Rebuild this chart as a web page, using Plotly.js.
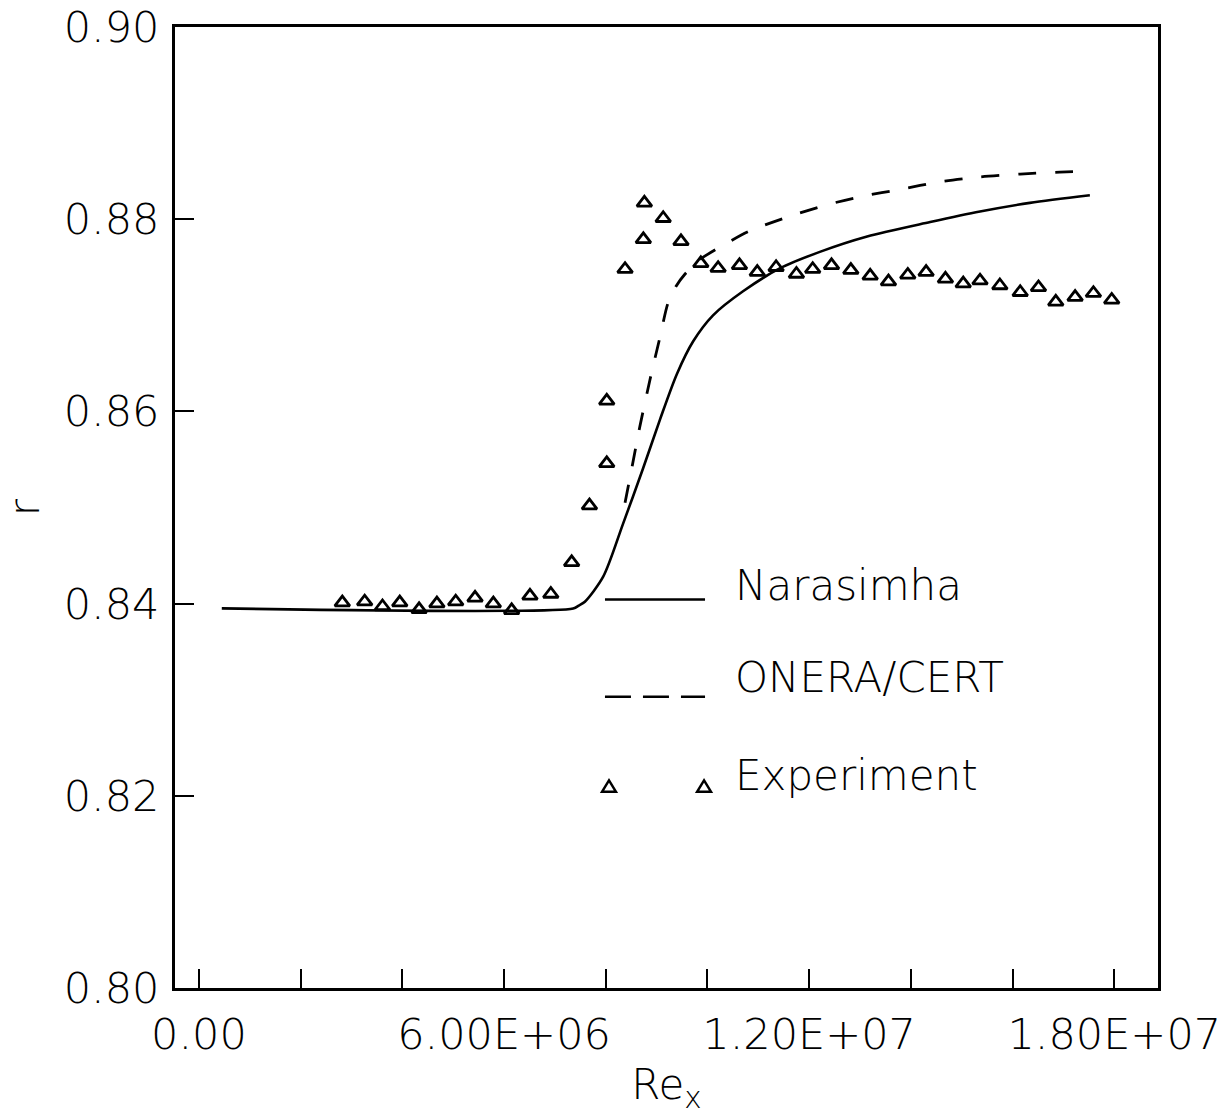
<!DOCTYPE html>
<html>
<head>
<meta charset="utf-8">
<script src="https://cdn.plot.ly/plotly-3.0.1.min.js"></script>
<style>html,body{margin:0;padding:0;background:#fff}#chart{width:1231px;height:1115px}</style>
</head>
<body>
<div id="chart"></div>
<script>
// Experiment (open triangles)
const expX = [2.82e6,3.26e6,3.61e6,3.95e6,4.33e6,4.68e6,5.05e6,5.43e6,5.79e6,6.15e6,6.51e6,6.92e6,7.33e6,7.68e6,8.02e6,8.02e6,8.38e6,8.74e6,8.76e6,9.13e6,9.48e6,9.87e6,10.21e6,10.63e6,10.98e6,11.35e6,11.75e6,12.07e6,12.44e6,12.82e6,13.20e6,13.56e6,13.94e6,14.30e6,14.68e6,15.03e6,15.36e6,15.75e6,16.15e6,16.51e6,16.85e6,17.23e6,17.59e6,17.95e6];
const expY = [0.8401,0.8402,0.8397,0.8401,0.8394,0.8400,0.8402,0.8406,0.8400,0.8393,0.8408,0.8410,0.8443,0.8502,0.8546,0.8611,0.8748,0.8779,0.8817,0.8801,0.8777,0.8754,0.8749,0.8752,0.8745,0.8750,0.8743,0.8748,0.8752,0.8747,0.8741,0.8735,0.8742,0.8745,0.8738,0.8733,0.8736,0.8731,0.8724,0.8729,0.8714,0.8719,0.8723,0.8716];

// Narasimha (solid)
const narX = [0.45e6,7.36e6,7.47e6,7.59e6,7.95e6,8.34e6,8.73e6,9.07e6,9.40e6,9.72e6,10.11e6,10.70e6,11.43e6,12.21e6,13.14e6,14.38e6,15.36e6,16.34e6,17.52e6];
const narY = [0.8395,0.8395,0.8398,0.8402,0.8428,0.8483,0.8540,0.8592,0.8639,0.8673,0.8700,0.8725,0.8749,0.8766,0.8782,0.8797,0.8808,0.8817,0.8825];

// ONERA/CERT (dashed)
const oneX = [8.38e6,8.52e6,8.67e6,8.87e6,9.07e6,9.22e6,9.38e6,9.56e6,9.85e6,10.31e6,10.84e6,11.56e6,12.35e6,13.06e6,13.79e6,14.57e6,15.36e6,16.15e6,16.93e6,17.48e6];
const oneY = [0.8505,0.8543,0.8584,0.8633,0.8678,0.8712,0.8730,0.8743,0.8758,0.8773,0.8788,0.8802,0.8815,0.8824,0.8831,0.8839,0.8844,0.8847,0.8849,0.8850];

// Axis ticks
const xTickVals = [0,6e6,12e6,18e6];
const xTickText = ["0.00","6.00E+06","1.20E+07","1.80E+07"];
const xMinorVals = [2e6,4e6,8e6,10e6,14e6,16e6];
const yTickVals = [0.80,0.82,0.84,0.86,0.88,0.90];
const yTickText = ["0.80","0.82","0.84","0.86","0.88","0.90"];

// Legend labels
const legendNames = ["Narasimha","ONERA/CERT","Experiment"];

const FONT = {family:"DejaVu Sans, sans-serif", size:42, color:"#000", weight:200};
const TICKFONT = {family:"DejaVu Sans, sans-serif", size:43, color:"#000", weight:200};

const traces = [
  {x:narX, y:narY, mode:"lines", name:legendNames[0],
   line:{color:"#000", width:2.6, shape:"spline", smoothing:0.8}},
  {x:oneX, y:oneY, mode:"lines", name:legendNames[1],
   line:{color:"#000", width:2.8, dash:"18px,19px", shape:"spline", smoothing:0.7}},
  {x:expX, y:expY, mode:"markers", name:legendNames[2],
   marker:{symbol:"triangle-up-open", size:13, color:"#000", line:{width:2.8, color:"#000"}}}
];

// legend key positions in paper fractions
const L = {x0:0.4374, x1:0.5392, tx:0.5676, y:[0.4042,0.3031,0.2083], ty:[0.4188,0.3229,0.2208]};
const tri = "M-7,-4 L7,-4 L0,7.5 Z";

const tickStyle = {ticks:"inside", ticklen:19, tickwidth:2, tickcolor:"#000"};

const layout = {
  width:1231, height:1115,
  margin:{l:175, r:73, t:27, b:127},
  paper_bgcolor:"#fff", plot_bgcolor:"#fff",
  showlegend:false,
  font:FONT,
  xaxis:Object.assign({
    range:[-0.47e6, 18.86e6], tickmode:"array", tickvals:xTickVals, ticktext:xTickText,
    minor:Object.assign({tickvals:xMinorVals, showgrid:false}, tickStyle),
    showline:true, linewidth:3, linecolor:"#000", mirror:true,
    showgrid:false, zeroline:false, tickfont:TICKFONT, ticklabelstandoff:6,
    title:{text:"Re<sub>x</sub>", font:FONT, standoff:14}
  }, tickStyle),
  yaxis:Object.assign({
    range:[0.80,0.90], tickmode:"array", tickvals:yTickVals, ticktext:yTickText,
    showline:true, linewidth:3, linecolor:"#000", mirror:true,
    showgrid:false, zeroline:false, tickfont:TICKFONT, ticklabelstandoff:4,
    title:{text:"r", font:FONT, standoff:36}
  }, tickStyle),
  shapes:[
    {type:"line", xref:"paper", yref:"paper", x0:L.x0, x1:L.x1, y0:L.y[0], y1:L.y[0], line:{color:"#000", width:2.6}},
    {type:"line", xref:"paper", yref:"paper", x0:L.x0, x1:L.x1, y0:L.y[1], y1:L.y[1], line:{color:"#000", width:2.6, dash:"26px,12px"}},
    {type:"path", xref:"paper", yref:"paper", xsizemode:"pixel", ysizemode:"pixel", xanchor:0.4415, yanchor:L.y[2], path:tri, line:{color:"#000", width:2.4}},
    {type:"path", xref:"paper", yref:"paper", xsizemode:"pixel", ysizemode:"pixel", xanchor:0.5382, yanchor:L.y[2], path:tri, line:{color:"#000", width:2.4}}
  ],
  annotations: legendNames.map((t,i)=>({
    text:t, xref:"paper", yref:"paper", x:L.tx, y:L.ty[i], xanchor:"left", yanchor:"middle",
    showarrow:false, font:FONT
  }))
};

Plotly.newPlot("chart", traces, layout, {displayModeBar:false, staticPlot:true});
</script>
</body>
</html>
